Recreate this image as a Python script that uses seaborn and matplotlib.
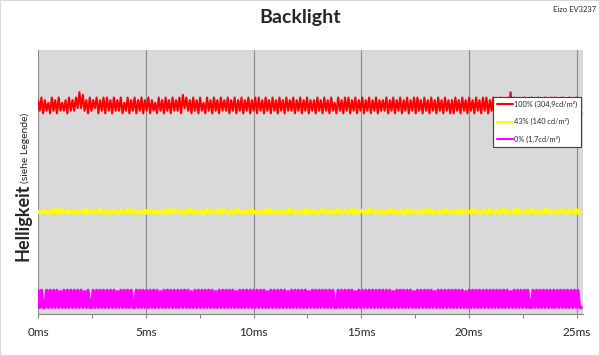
import numpy as np
import pandas as pd
import matplotlib
matplotlib.use("Agg")
import matplotlib.pyplot as plt
import matplotlib.ticker as mticker
from matplotlib.patches import Rectangle
import seaborn as sns

# scope trace, one sample every 0.08 ms (arbitrary units 0..100)
dt = 0.08

red_100 = [
    81,77,82,76,81,77,80,76,82,77,81,76,82,77,80,77,81,76,82,77,
    81,77,82,78,84,78,83,77,81,76,82,77,81,78,82,76,81,77,82,76,
    82,77,81,76,82,77,81,77,82,76,80,77,82,76,81,77,82,76,81,77,
    82,76,81,77,82,76,81,77,80,76,82,77,81,76,82,77,81,76,82,77,
    81,77,82,76,83,78,82,77,81,76,82,77,81,76,82,77,80,76,82,77,
    81,76,82,77,81,76,82,77,81,77,82,76,81,77,82,76,81,77,82,76,
    81,77,82,76,81,77,82,76,82,77,81,76,82,77,81,76,82,77,81,76,
    82,77,81,76,82,77,81,77,82,76,81,77,82,76,81,77,82,76,81,77,
    81,76,82,77,81,76,82,77,81,76,82,77,80,76,82,77,81,76,82,77,
    82,76,81,77,82,76,81,77,82,76,81,77,82,76,81,77,82,76,81,77,
    81,77,82,76,81,77,82,76,81,77,82,76,81,77,82,76,81,77,82,76,
    82,77,81,76,82,77,81,76,82,77,81,76,82,77,81,76,82,77,81,76,
    81,76,82,77,81,76,82,77,81,76,82,77,81,76,82,77,81,76,82,77,
    82,76,81,77,82,76,81,77,82,77,81,76,82,76,84,77,82,76,81,77,
    81,77,82,76,81,77,82,76,81,77,82,76,81,77,82,76,81,77,82,76,
    82,77,81,76,82,77,81,76,82,77,81,76,82,77,81,76,
]

yellow_43 = [
    39,38,39,38.5,39.5,38,39,38,39.5,38.5,40,38,39.5,38,40,38.5,39,38,39.5,38.5,
    39,38,39.5,38,39,38.5,39.5,38,40,38,39,38.5,39.5,38,39,38,40,38.5,39,38,
    39.5,38,39,38.5,39.5,38,39,38,39.5,38.5,39,38,40,38.5,39,38,39.5,38,39,38.5,
    39,38,39.5,38,40,38.5,39,38,39.5,38,39,38.5,39.5,38,39,38,40,38,39.5,38.5,
    39.5,38.5,39,38,39.5,38,39,38.5,40,38,39.5,38,39,38.5,39.5,38,39,38,40,38.5,
    39,38,39.5,38.5,39,38,40,38,39.5,38.5,39,38,39.5,38,39,38.5,40,38,39,38,
    39.5,38,39,38.5,40,38,39,38,39.5,38.5,39,38,39.5,38,40,38.5,39,38,39.5,38,
    39,38.5,39.5,38,39,38,40,38.5,39,38,39.5,38,39,38.5,39.5,38,40,38,39,38.5,
    39.5,38,39,38,39.5,38.5,40,38,39,38.5,39.5,38,39,38,40,38.5,39,38,39.5,38,
    39,38.5,40,38,39.5,38,39,38.5,39.5,38,39,38,40,38.5,39,38,39.5,38.5,39,38,
    39.5,38,39,38.5,40,38,39.5,38,39,38.5,39.5,38,39,38,40,38.5,39,38,39.5,38.5,
    39,38,39.5,38,39,38.5,40,38,39.5,38,39,38.5,39.5,38,39,38,40,38.5,39,38,
    39.5,38.5,39,38,40,38,39,38.5,39.5,38,39,38,40,38.5,39.5,38,39,38,39.5,38.5,
    39,38,40,38.5,39,38,39.5,38,39,38.5,40,38,39.5,38,39,38.5,39.5,38,40,38,
    39,38.5,39.5,38,39,38,40,38.5,39,38,39.5,38,39,38.5,40,38,39.5,38,39,38.5,
    39.5,38,39,38.5,40,38,39,38,39.5,38.5,39,38,40,38,39,38.5,
]

magenta_0 = [
    9,2.5,9,2.5,2.5,9,2.5,9,2.5,9,2.5,9,2.5,8.5,2.5,9,2.5,9,2.5,9,
    2.5,9,2.5,9,2.5,9,2.5,8.5,2.5,9,2.5,2.5,9,2.5,9,2.5,9,2.5,9,2.5,
    9,2.5,9,2.5,9,2.5,8.5,2.5,9,2.5,9,2.5,9,2.5,9,2.5,2.5,9,2.5,9,
    2.5,9,2.5,9,2.5,9,2.5,9,2.5,9,2.5,8.5,2.5,9,2.5,9,2.5,9,2.5,9,
    2.5,9,2.5,9,2.5,9,2.5,9,2.5,8.5,2.5,9,2.5,9,2.5,9,2.5,9,2.5,9,
    2.5,9,2.5,8.5,2.5,9,2.5,9,2.5,9,2.5,9,2.5,9,2.5,8.5,2.5,9,2.5,9,
    2.5,9,2.5,9,2.5,9,2.5,9,2.5,9,2.5,9,2.5,8.5,2.5,9,2.5,9,2.5,9,
    2.5,9,2.5,9,2.5,8.5,2.5,9,2.5,9,2.5,9,2.5,9,2.5,9,2.5,8.5,2.5,9,
    2.5,9,2.5,9,2.5,9,2.5,9,2.5,9,2.5,9,2.5,2.5,9,2.5,9,2.5,9,2.5,
    9,2.5,9,2.5,8.5,2.5,9,2.5,9,2.5,9,2.5,9,2.5,9,2.5,9,2.5,9,2.5,
    9,2.5,9,2.5,9,2.5,8.5,2.5,9,2.5,9,2.5,9,2.5,9,2.5,9,2.5,8.5,2.5,
    9,2.5,9,2.5,9,2.5,9,2.5,9,2.5,8.5,2.5,9,2.5,9,2.5,9,2.5,9,2.5,
    9,2.5,9,2.5,9,2.5,9,2.5,8.5,2.5,9,2.5,9,2.5,9,2.5,9,2.5,9,2.5,
    9,2.5,9,2.5,9,2.5,9,2.5,9,2.5,9,2.5,9,2.5,8.5,2.5,9,2.5,9,2.5,
    9,2.5,9,2.5,9,2.5,2.5,9,2.5,9,2.5,9,2.5,9,2.5,9,2.5,9,2.5,9,
    2.5,9,2.5,9,2.5,9,2.5,9,2.5,9,2.5,9,2.5,9,2.5,2.5,
]

labels = ['100% (304,9cd/m²)', '43% (140 cd/m²)', '0% (1,7cd/m²)']
colors = ['#ff0000', '#ffff00', '#ff00ff']
xticks = [0, 5, 10, 15, 20, 25]

# build long table for seaborn
t = np.arange(len(red_100)) * dt
df = pd.DataFrame({'t': t, labels[0]: red_100, labels[1]: yellow_43, labels[2]: magenta_0})
long = df.melt(id_vars='t', var_name='serie', value_name='wert')

sns.set_theme(style='white')
plt.rcParams['font.family'] = ['Lato', 'DejaVu Sans']

fig = plt.figure(figsize=(6, 3.56), dpi=100)
ax = fig.add_axes([38/600, 1-314/356, 545/600, 264/356])
ax.set_facecolor('#d9d9d9')

for lab, col, lw in zip(labels, colors, [1.5, 1.8, 2.3]):
    sns.lineplot(data=long[long.serie == lab], x='t', y='wert', color=col, lw=lw,
                 label=lab, ax=ax, estimator=None)

ax.set_xlim(0, 25.28)
ax.set_ylim(0, 100)
ax.set_xticks(xticks)
ax.xaxis.set_minor_locator(mticker.MultipleLocator(2.5))
ax.xaxis.set_major_formatter(mticker.FuncFormatter(lambda v, p: f'{int(v)}ms'))
ax.set_yticks([])
ax.set_xlabel('')
ax.set_ylabel('')
ax.grid(axis='x', which='major', color='#8c8c8c', lw=0.8)
ax.set_axisbelow(True)
for s in ['top', 'right', 'left']:
    ax.spines[s].set_visible(False)
ax.spines['bottom'].set_color('#868686')
ax.spines['bottom'].set_linewidth(0.8)
ax.tick_params(axis='x', which='both', direction='out', length=3, width=0.8,
               color='#868686', labelsize=8.5, pad=6, bottom=True)

# legend box sits inside the plot, over the red trace
leg = ax.legend(loc='upper left', bbox_to_anchor=(0.835, 0.822), borderaxespad=0,
                fontsize=5.3, frameon=True, fancybox=False, edgecolor='#404040',
                framealpha=1, handlelength=2.2, handletextpad=0.15, labelspacing=1.4,
                borderpad=0.5)
leg.get_frame().set_linewidth(0.8)
for h in leg.get_lines():
    h.set_linewidth(1.5)

fig.text(0.5, 1-17/356, 'Backlight', ha='center', va='center', fontsize=14, fontweight='bold')
fig.text(575/600, 1-10/356, 'Eizo EV3237', ha='center', va='center', fontsize=5.5)
fig.text(23/600, 1-222/356, 'Helligkeit', rotation=90, ha='center', va='center',
         fontsize=13, fontweight='bold')
fig.text(25/600, 1-148/356, '(siehe Legende)', rotation=90, ha='center', va='center',
         fontsize=7.5)

fig.patches.append(Rectangle((0, 0), 1, 1, transform=fig.transFigure, fill=False,
                             edgecolor='#d9d9d9', lw=1.5))

fig.savefig('out.png', dpi=100)
